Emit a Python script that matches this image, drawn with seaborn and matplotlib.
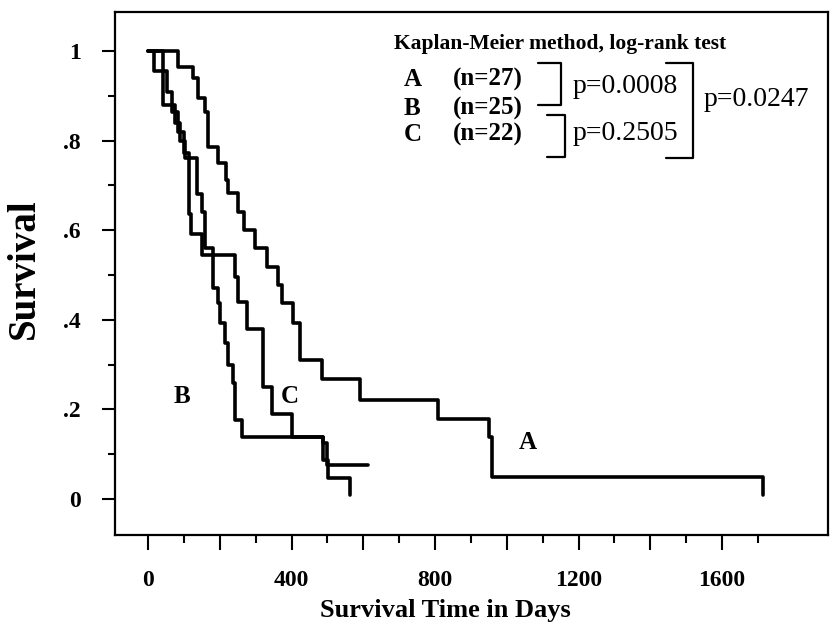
import numpy as np
import pandas as pd
import seaborn as sns
import matplotlib.pyplot as plt

# Kaplan-Meier step curves (day of drop, survival after drop)
days_a = [0, 84, 125, 139, 159, 167, 195, 217, 223, 251, 268, 298, 332, 362, 374,
          404, 424, 485, 591, 808, 951, 959, 1715]
surv_a = [1.0, 0.963, 0.94, 0.894, 0.863, 0.785, 0.749, 0.712, 0.683, 0.640, 0.600,
          0.560, 0.517, 0.477, 0.437, 0.393, 0.310, 0.268, 0.221, 0.178, 0.138, 0.049, 0.01]

days_b = [0, 42, 75, 89, 103, 137, 150, 159, 181, 195, 201, 215, 223, 237, 243,
          262, 488, 502, 563]
surv_b = [1.0, 0.88, 0.84, 0.80, 0.76, 0.68, 0.64, 0.56, 0.47, 0.437, 0.393, 0.348,
          0.30, 0.259, 0.176, 0.138, 0.087, 0.047, 0.01]

days_c = [0, 17, 53, 67, 84, 100, 114, 120, 150, 243, 251, 276, 321, 346, 401,
          488, 499, 613]
surv_c = [1.0, 0.955, 0.909, 0.864, 0.818, 0.773, 0.636, 0.591, 0.545, 0.495, 0.44,
          0.38, 0.25, 0.19, 0.138, 0.125, 0.076, 0.076]

groups = ["A", "B", "C"]
group_n = [27, 25, 22]
p_pairs = ["p=0.0008", "p=0.2505"]
p_overall = "p=0.0247"

# curve labels inside the plot (day, survival)
label_pos = {"A": (1059, 0.127), "B": (95, 0.228), "C": (396, 0.228)}

x_major = list(range(0, 1601, 200))
x_labels = [str(v) if v % 400 == 0 else "" for v in x_major]
x_minor = list(range(100, 1701, 200))
y_major = [0, 0.2, 0.4, 0.6, 0.8, 1.0]
y_labels = ["0", ".2", ".4", ".6", ".8", "1"]
y_minor = [0.1, 0.3, 0.5, 0.7, 0.9]

df = pd.concat([
    pd.DataFrame({"day": days_a, "survival": surv_a, "group": "A"}),
    pd.DataFrame({"day": days_b, "survival": surv_b, "group": "B"}),
    pd.DataFrame({"day": days_c, "survival": surv_c, "group": "C"}),
], ignore_index=True)

sns.set_style("ticks", {"text.color": "black", "axes.labelcolor": "black",
                        "xtick.color": "black", "ytick.color": "black",
                        "axes.edgecolor": "black"})
plt.rcParams["font.family"] = ["Liberation Serif", "DejaVu Serif"]

fig = plt.figure(figsize=(8.34, 6.25), dpi=100)
ax = fig.add_axes([0.138, 0.144, 0.855, 0.837])

sns.lineplot(data=df, x="day", y="survival", hue="group",
             palette={g: "black" for g in groups}, estimator=None, sort=False,
             drawstyle="steps-post", linewidth=2.6, legend=False, ax=ax)

ax.set_xlim(-92, 1896)
ax.set_ylim(-0.08, 1.087)

ax.set_xticks(x_major)
ax.set_xticklabels(x_labels)
ax.set_xticks(x_minor, minor=True)
ax.set_yticks(y_major)
ax.set_yticklabels(y_labels)
ax.set_yticks(y_minor, minor=True)

for lab in ax.get_xticklabels() + ax.get_yticklabels():
    lab.set_fontweight("bold")
    lab.set_fontsize(17)

ax.tick_params(axis="x", which="major", length=11, width=1.5, pad=14)
ax.tick_params(axis="x", which="minor", length=5.5, width=1.5)
ax.tick_params(axis="y", which="major", length=9.5, width=1.5, pad=15)
ax.tick_params(axis="y", which="minor", length=5, width=1.5)

for s in ax.spines.values():
    s.set_linewidth(1.6)
    s.set_color("black")

ax.set_xlabel("Survival Time in Days", fontsize=19, fontweight="bold")
ax.set_ylabel("Survival", fontsize=28, fontweight="bold")
ax.xaxis.set_label_coords(0.463, -0.122)
ax.yaxis.set_label_coords(-0.101, 0.51)

for g in groups:
    x, y = label_pos[g]
    ax.text(x, y, g, fontsize=18, fontweight="bold", ha="center", va="center")

# annotation block (axes fraction coordinates)
ax.text(0.391, 0.939, "Kaplan-Meier method, log-rank test", transform=ax.transAxes,
        fontsize=15.5, fontweight="bold", ha="left", va="center")
row_y = [0.870, 0.816, 0.765]
for g, n, yy in zip(groups, group_n, row_y):
    ax.text(0.405, yy, g, transform=ax.transAxes, fontsize=18, fontweight="bold",
            ha="left", va="center")
    ax.text(0.474, yy, f"(n={n})", transform=ax.transAxes, fontsize=18,
            fontweight="bold", ha="left", va="center")

bk = dict(color="black", linewidth=1.6, transform=ax.transAxes, clip_on=False)
ax.plot([0.593, 0.625, 0.625, 0.593], [0.902, 0.902, 0.822, 0.822], **bk)
ax.plot([0.606, 0.631, 0.631, 0.606], [0.803, 0.803, 0.723, 0.723], **bk)
ax.plot([0.773, 0.811, 0.811, 0.773], [0.902, 0.902, 0.721, 0.721], **bk)

ax.text(0.641, 0.858, p_pairs[0], transform=ax.transAxes, fontsize=20,
        ha="left", va="center")
ax.text(0.642, 0.767, p_pairs[1], transform=ax.transAxes, fontsize=20,
        ha="left", va="center")
ax.text(0.826, 0.832, p_overall, transform=ax.transAxes, fontsize=20,
        ha="left", va="center")

fig.savefig("out.png", dpi=100)
